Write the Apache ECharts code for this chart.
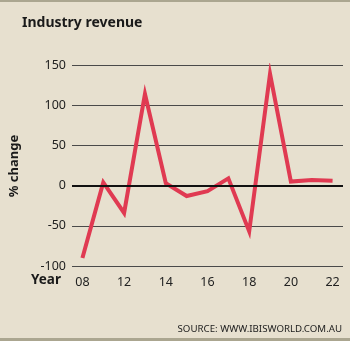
<!DOCTYPE html>
<html>
<head>
<meta charset="utf-8">
<style>
  html, body { margin: 0; padding: 0; background: #e7e0cf; }
  #chart { width: 350px; height: 341px; }
</style>
<script src="https://cdn.jsdelivr.net/npm/echarts@6/dist/echarts.min.js"></script>
</head>
<body>
<div id="chart"></div>
<script>
// Year-on-year change in industry revenue (%)
const years = ['08', '11', '12', '13', '14', '15', '16', '17', '18', '19', '20', '21', '22'];
const revenueChange = [-90, 4, -34, 114, 3, -13, -7, 9, -57, 139, 5, 7, 6];
const yTicks = { min: -100, max: 150, step: 50 };

const FONT = '"Noto Sans", sans-serif';
const chart = echarts.init(document.getElementById('chart'), null, { renderer: 'canvas' });

chart.setOption({
  backgroundColor: '#e7e0cf',
  animation: false,
  grid: { left: 72, right: 7, top: 65, bottom: 75 },
  xAxis: {
    type: 'category',
    data: years,
    boundaryGap: true,
    axisLine: { show: false },
    axisTick: { show: false },
    axisLabel: {
      interval: 1,
      margin: 10,
      color: '#222',
      fontFamily: FONT,
      fontSize: 12.5
    }
  },
  yAxis: {
    type: 'value',
    min: yTicks.min,
    max: yTicks.max,
    interval: yTicks.step,
    axisLine: { show: false },
    axisTick: { show: false },
    axisLabel: { margin: 6, color: '#222', fontFamily: FONT, fontSize: 12.5 },
    splitLine: { lineStyle: { color: '#4a4a4a', width: 1 } }
  },
  series: [{
    type: 'line',
    data: revenueChange,
    symbol: 'none',
    lineStyle: { color: '#e03a52', width: 4, join: 'miter' },
    markLine: {
      silent: true,
      symbol: 'none',
      label: { show: false },
      lineStyle: { color: '#111', width: 2, type: 'solid' },
      data: [{ yAxis: 0 }]
    },
    z: 3
  }],
  graphic: [
    { type: 'rect', left: 0, top: 0, shape: { width: 350, height: 2 }, style: { fill: '#aba690' } },
    { type: 'rect', left: 0, top: 338, shape: { width: 350, height: 3 }, style: { fill: '#aba690' } },
    {
      type: 'text', left: 22, top: 16,
      style: { text: 'Industry revenue', fill: '#1a1a1a', font: `bold 14px ${FONT}` }
    },
    {
      type: 'text', left: 31, top: 273,
      style: { text: 'Year', fill: '#1a1a1a', font: `bold 13.5px ${FONT}` }
    },
    {
      type: 'text', x: 14, y: 166, rotation: Math.PI / 2,
      style: { text: '% change', fill: '#1a1a1a', font: `bold 13px ${FONT}`, align: 'center', verticalAlign: 'middle' }
    },
    {
      type: 'text', right: 8, top: 324,
      style: { text: 'SOURCE: WWW.IBISWORLD.COM.AU', fill: '#222', font: `9.7px ${FONT}` }
    }
  ]
});
</script>
</body>
</html>
